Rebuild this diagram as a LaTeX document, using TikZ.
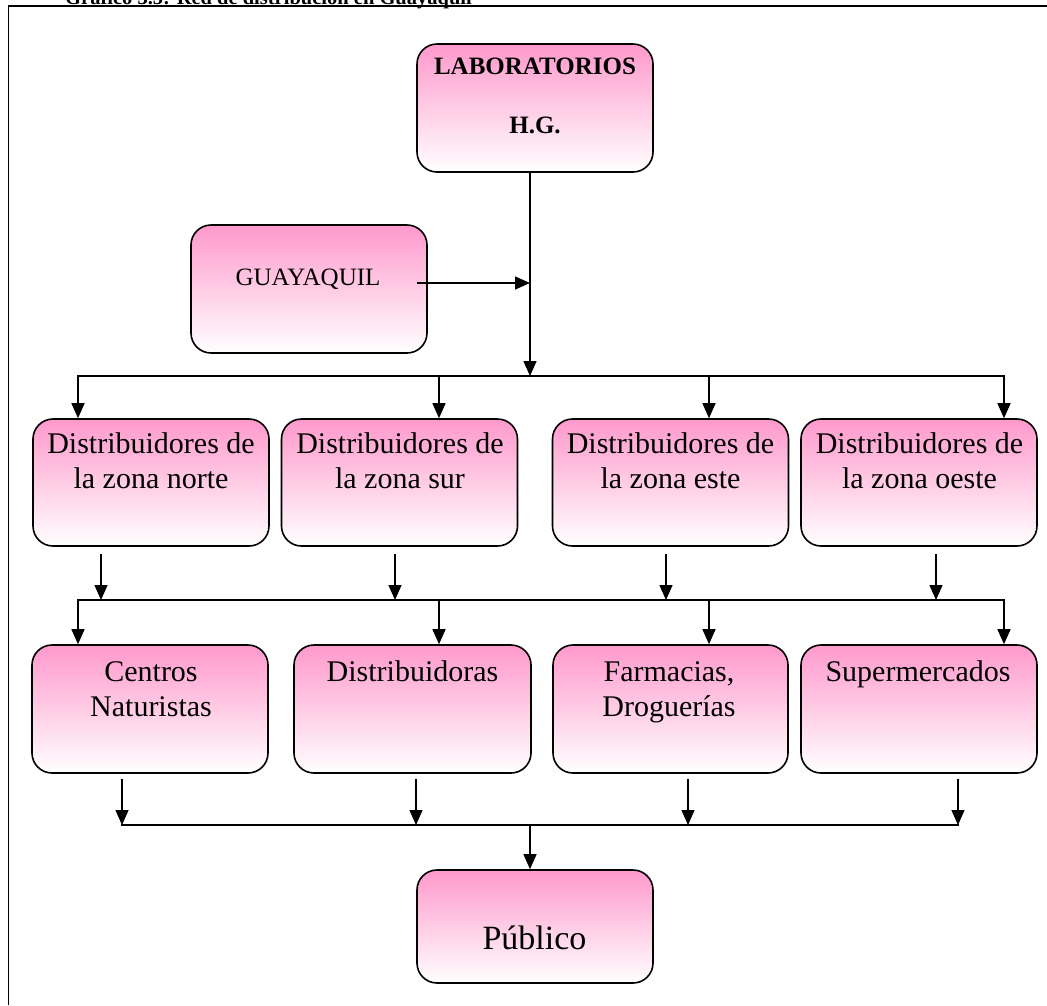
\documentclass[tikz,border=0pt]{standalone}
\usepackage{fontspec}
\setmainfont{Liberation Serif}
\usetikzlibrary{arrows.meta}
\definecolor{boxpink}{RGB}{255,153,204}
\begin{document}
\begin{tikzpicture}[x=1pt,y=-1pt,
  box/.style={draw=black, line width=1.6pt, rounded corners=20pt,
    top color=boxpink, bottom color=white,
    minimum width=236pt, minimum height=127pt, inner sep=0pt},
  txt/.style={inner sep=0pt, anchor=base, font=\fontsize{30}{35}\selectfont},
  conn/.style={line width=1.4pt},
  bus/.style={conn, line cap=rect},
  arr/.style={conn, -{Triangle[length=15pt,width=13pt]}},
  frame/.style={black}
]
\useasboundingbox (0,0) rectangle (1047,1005);
\begin{scope}
\clip (0,0) rectangle (1047,1005);
\node[anchor=base west, inner sep=0pt, font=\fontsize{20.5}{24}\selectfont\bfseries] (title) at (65,4) {Gráfico 3.5: Red de distribución en Guayaquil};
\end{scope}

% frame
\coordinate (fTL) at (8,6);
\coordinate (fTR) at (1047,6);
\coordinate (fBL) at (8,1005);
\draw[frame, line width=2.4pt] (fTL) -- (fTR);
\draw[frame, line width=1pt] (fTL) -- (fBL);

% top boxes
\node[box, minimum height=128pt] (lab) at (535,108) {};
\node[txt, font=\fontsize{25}{30}\selectfont\bfseries] (labt1) at (535,74) {LABORATORIOS};
\node[txt, font=\fontsize{25}{30}\selectfont\bfseries] (labt2) at (535,133) {H.G.};

\node[box, minimum height=128pt] (gye) at (309,289) {};
\node[txt, font=\fontsize{25}{30}\selectfont] (gyet) at (308,285) {GUAYAQUIL};

% row 1
\node[box] (d1) at (151,482.5) {};
\node[box] (d2) at (399.5,482.5) {};
\node[box] (d3) at (670.5,482.5) {};
\node[box] (d4) at (919,482.5) {};
\node[txt] (d1a) at (151,453) {Distribuidores de};
\node[txt] (d1b) at (151,488) {la zona norte};
\node[txt] (d2a) at (400,453) {Distribuidores de};
\node[txt] (d2b) at (400,488) {la zona sur};
\node[txt] (d3a) at (670.5,453) {Distribuidores de};
\node[txt] (d3b) at (670.5,488) {la zona este};
\node[txt] (d4a) at (919.5,453) {Distribuidores de};
\node[txt] (d4b) at (919.5,488) {la zona oeste};

% row 2
\node[box, minimum height=128pt] (c1) at (150,709) {};
\node[box, minimum height=128pt, minimum width=237pt] (c2) at (412.5,709) {};
\node[box, minimum height=128pt, minimum width=235pt] (c3) at (670.5,709) {};
\node[box, minimum height=128pt] (c4) at (919,709) {};
\node[txt] (c1a) at (151,681) {Centros};
\node[txt] (c1b) at (151,716) {Naturistas};
\node[txt] (c2a) at (412.5,681) {Distribuidoras};
\node[txt] (c3a) at (669,681) {Farmacias,};
\node[txt] (c3b) at (669,716) {Droguerías};
\node[txt] (c4a) at (918,681) {Supermercados};

% bottom box
\node[box, minimum height=113pt] (pub) at (535,926.5) {};
\node[txt, font=\fontsize{34}{40}\selectfont] (pubt) at (534.5,949) {Público};

% connectors: top
\coordinate (labout) at ([xshift=-5pt]lab.south);
\coordinate (j1) at (530,376);
\draw[arr] (labout) -- (j1);
\coordinate (gyeout) at (417,283);
\coordinate (gyein) at (530,283);
\draw[arr] (gyeout) -- (gyein);

% bus 1
\coordinate (b1a) at (78,376);
\coordinate (b1b) at (439,376);
\coordinate (b1c) at (709,376);
\coordinate (b1d) at (1004,376);
\draw[bus] (b1a) -- (b1d);
\draw[arr] (b1a) -- (b1a |- d1.north);
\draw[arr] (b1b) -- (b1b |- d2.north);
\draw[arr] (b1c) -- (b1c |- d3.north);
\draw[arr] (b1d) -- (b1d |- d4.north);

% row 1 outputs
\coordinate (o1) at (101,554);
\coordinate (o2) at (395,554);
\coordinate (o3) at (666,554);
\coordinate (o4) at (936,554);
\coordinate (b2a) at (78,600);
\coordinate (b2b) at (439,600);
\coordinate (b2c) at (709,600);
\coordinate (b2d) at (1004,600);
\draw[arr] (o1) -- (o1 |- b2a);
\draw[arr] (o2) -- (o2 |- b2a);
\draw[arr] (o3) -- (o3 |- b2a);
\draw[arr] (o4) -- (o4 |- b2a);
\draw[bus] (b2a) -- (b2d);
\draw[arr] (b2a) -- (b2a |- c1.north);
\draw[arr] (b2b) -- (b2b |- c2.north);
\draw[arr] (b2c) -- (b2c |- c3.north);
\draw[arr] (b2d) -- (b2d |- c4.north);

% row 2 outputs
\coordinate (p1) at (122,779);
\coordinate (p2) at (416,779);
\coordinate (p3) at (688,779);
\coordinate (p4) at (958,779);
\coordinate (b3a) at (122,825);
\coordinate (b3d) at (958,825);
\coordinate (j3) at (530,825);
\draw[arr] (p1) -- (p1 |- b3a);
\draw[arr] (p2) -- (p2 |- b3a);
\draw[arr] (p3) -- (p3 |- b3a);
\draw[arr] (p4) -- (p4 |- b3a);
\draw[bus] (b3a) -- (b3d);
\draw[arr] (j3) -- (j3 |- pub.north);
\end{tikzpicture}
\end{document}
